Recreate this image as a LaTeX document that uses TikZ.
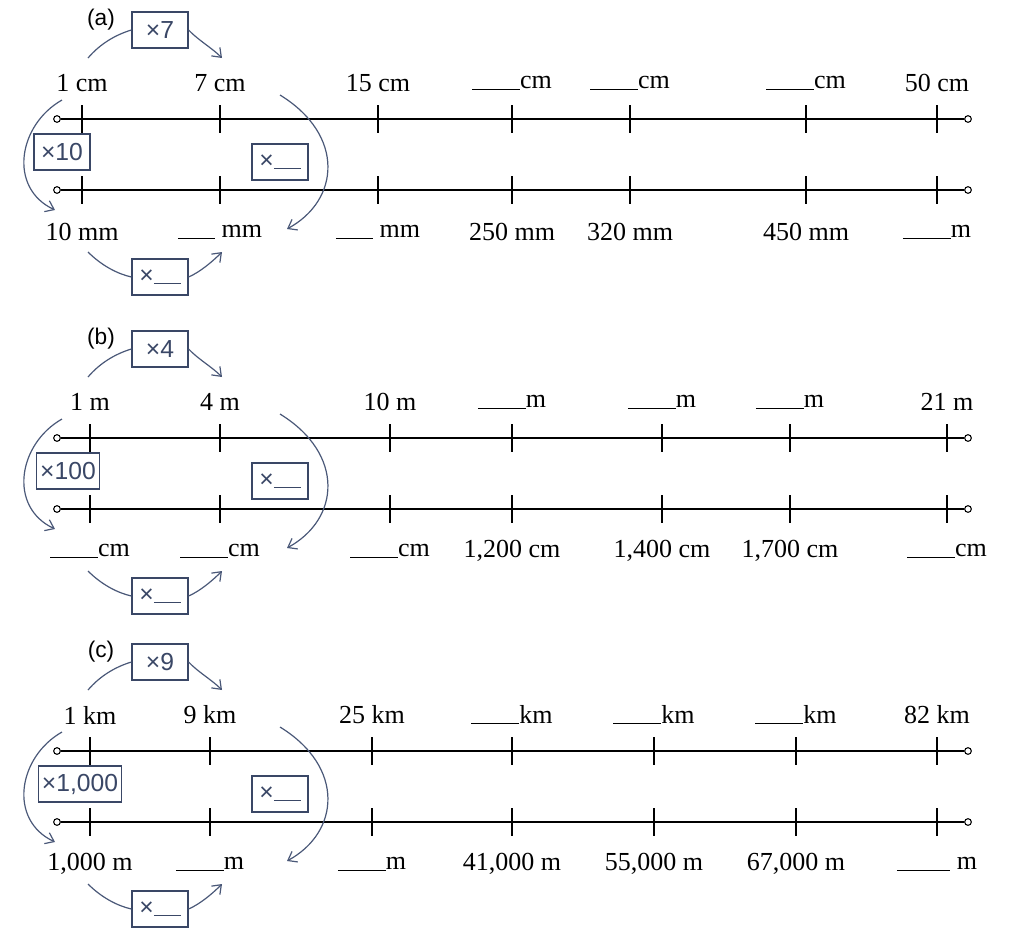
\documentclass[tikz,border=0pt]{standalone}
\usepackage{fontspec}
\setmainfont{Liberation Serif}
\setsansfont{Liberation Sans}
\usetikzlibrary{arrows.meta}
\definecolor{boxc}{HTML}{3A4766}
\definecolor{arcc}{HTML}{4A5878}
\newcommand\blk[1]{\rule[-0.5pt]{#1}{0.7pt}}
\tikzset{
 lab/.style={font=\fontsize{19.5}{22}\selectfont, inner sep=0pt},
 opbox/.style={draw=boxc, fill=white, line width=0.9pt, font=\sffamily\fontsize{18.5}{20}\selectfont, text=boxc, minimum height=27pt, minimum width=42pt, inner sep=2.5pt},
 arcl/.style={draw=arcc, line width=0.9pt},
 arra/.style={arcl, -{Straight Barb[length=6pt,width=9pt]}},
 axis/.style={line width=0.9pt},
 endc/.style={circle, draw, line width=0.8pt, fill=white, inner sep=0pt, minimum size=5pt},
 tag/.style={font=\sffamily\fontsize{17}{19}\selectfont, inner sep=0pt}
}
\newcommand\mypanel[6]{%
 \begin{scope}[yshift=#2*-0.75pt]
 \node[tag] (#1tag) at (101,20) {(#1)};
 \node[endc] (#1ls) at (57,119) {}; \node[endc] (#1le) at (968,119) {};
 \node[endc] (#1bs) at (57,190) {}; \node[endc] (#1be) at (968,190) {};
 \draw[axis] (#1ls) -- (#1le); \draw[axis] (#1bs) -- (#1be);
 \foreach \x/\t/\b [count=\i] in {#3} {
   \draw[axis] (\x,105) -- (\x,133);
   \draw[axis] (\x,176) -- (\x,204);
   \node[lab] (#1t\i) at (\x,83) {\t};
   \node[lab] (#1b\i) at (\x,232) {\b};
 }
 \node[opbox] (#1top) at (160,30) {#4};
 \coordinate (#1ts) at (88,58); \coordinate (#1te) at (222,58);
 \draw[arcl] (#1ts) .. controls (100,44) and (115,35) .. (#1top.west);
 \draw[arra] (#1top.east) .. controls (198,40) and (212,48) .. (#1te);
 \coordinate (#1as) at (62,100); \coordinate (#1ae) at (55,210);
 \draw[arra] (#1as) .. controls (18,125) and (8,188) .. (#1ae);
 \node[opbox] (#1lbox) at (#6,152) {#5};
 \coordinate (#1rs) at (280,95); \coordinate (#1re) at (287,229);
 \draw[arra] (#1rs) .. controls (345,135) and (340,200) .. (#1re);
 \node[opbox] (#1rbox) at (280,162) {×\blk{20pt}};
 \node[opbox] (#1bot) at (160,277) {×\blk{20pt}};
 \coordinate (#1bs2) at (88,252); \coordinate (#1be2) at (222,252);
 \draw[arcl] (#1bs2) .. controls (102,266) and (118,274) .. (#1bot.west);
 \draw[arra] (#1bot.east) .. controls (200,272) and (212,262) .. (#1be2);
 \end{scope}}
\begin{document}
\begin{tikzpicture}[x=0.75pt,y=-0.75pt]
\useasboundingbox (0,0) rectangle (1024,946);
\mypanel{a}{0}{82/{1 cm}/{10 mm},220/{7 cm}/{\blk{28pt} mm},378/{15 cm}/{\blk{28pt} mm},512/{\blk{36pt}cm}/{250 mm},630/{\blk{36pt}cm}/{320 mm},806/{\blk{36pt}cm}/{450 mm},937/{50 cm}/{\blk{36pt}m}}{×7}{×10}{62}
\mypanel{b}{319}{90/{1 m}/{\blk{36pt}cm},220/{4 m}/{\blk{36pt}cm},390/{10 m}/{\blk{36pt}cm},512/{\blk{36pt}m}/{1,200 cm},662/{\blk{36pt}m}/{1,400 cm},790/{\blk{36pt}m}/{1,700 cm},947/{21 m}/{\blk{36pt}cm}}{×4}{×100}{68}
\mypanel{c}{632}{90/{1 km}/{1,000 m},210/{9 km}/{\blk{36pt}m},372/{25 km}/{\blk{36pt}m},512/{\blk{36pt}km}/{41,000 m},654/{\blk{36pt}km}/{55,000 m},796/{\blk{36pt}km}/{67,000 m},937/{82 km}/{\blk{40pt} m}}{×9}{×1,000}{80}
\end{tikzpicture}
\end{document}
